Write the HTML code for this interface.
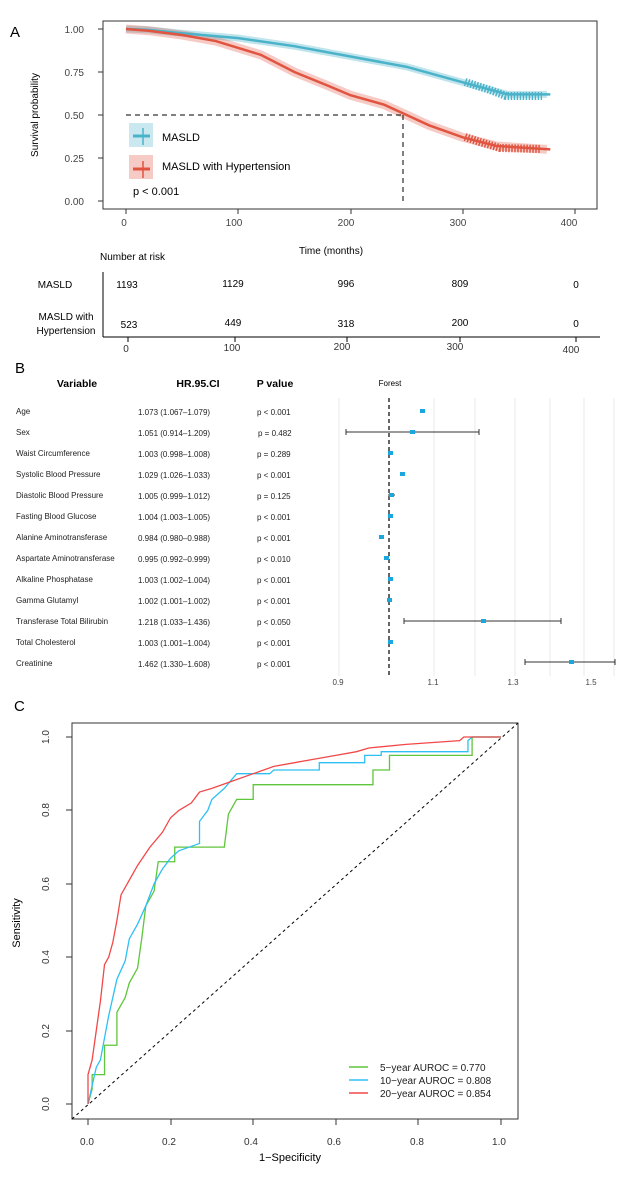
<!DOCTYPE html>
<html><head><meta charset="utf-8"><style>
body{margin:0;background:#fff}
svg{display:block;font-family:"Liberation Sans",Arial,sans-serif}
</style></head><body>
<svg width="624" height="1178" viewBox="0 0 624 1178" xmlns="http://www.w3.org/2000/svg">
<!-- Panel A -->
<text x="10" y="37" font-size="15">A</text>
<rect x="103" y="21" width="494" height="188" fill="none" stroke="#333" stroke-width="1"/>
<g font-size="10" fill="#444" text-anchor="end">
<text x="84" y="33">1.00</text><text x="84" y="76">0.75</text><text x="84" y="119">0.50</text><text x="84" y="162">0.25</text><text x="84" y="205">0.00</text>
</g>
<g stroke="#333"><line x1="98" y1="29" x2="103" y2="29"/><line x1="98" y1="72" x2="103" y2="72"/><line x1="98" y1="115" x2="103" y2="115"/><line x1="98" y1="158" x2="103" y2="158"/><line x1="98" y1="201" x2="103" y2="201"/>
<line x1="126" y1="209" x2="126" y2="214"/><line x1="238" y1="209" x2="238" y2="214"/><line x1="351" y1="209" x2="351" y2="214"/><line x1="463" y1="209" x2="463" y2="214"/><line x1="575" y1="209" x2="575" y2="214"/></g>
<g font-size="10" fill="#444" text-anchor="middle">
<text x="124" y="226">0</text><text x="234" y="226">100</text><text x="346" y="226">200</text><text x="458" y="226">300</text><text x="569" y="226">400</text></g>
<text x="331" y="254" font-size="10" text-anchor="middle">Time (months)</text>
<text transform="translate(38,115) rotate(-90)" font-size="10" text-anchor="middle">Survival probability</text>
<g transform="translate(126,201) scale(1.1225,-172)" fill="none">
<polyline stroke="#4bb3c9" stroke-opacity="0.35" stroke-width="7" vector-effect="non-scaling-stroke" points="0,1 20,0.995 50,0.975 100,0.947 150,0.9 200,0.84 250,0.78 300,0.69 340,0.62 375,0.62"/>
<polyline stroke="#e05440" stroke-opacity="0.3" stroke-width="9" vector-effect="non-scaling-stroke" points="0,1 20,0.99 50,0.965 80,0.93 100,0.89 120,0.85 150,0.75 180,0.67 200,0.615 230,0.56 250,0.5 270,0.44 300,0.37 330,0.32 375,0.3"/>
<polyline stroke="#4bb3c9" stroke-width="2.5" vector-effect="non-scaling-stroke" points="0,1 20,0.995 50,0.975 100,0.947 150,0.9 200,0.84 250,0.78 300,0.69 340,0.62 378,0.62"/>
<polyline stroke="#e05440" stroke-width="2.5" vector-effect="non-scaling-stroke" points="0,1 20,0.99 50,0.965 80,0.93 100,0.89 120,0.85 150,0.75 180,0.67 200,0.615 230,0.56 250,0.5 270,0.44 300,0.37 330,0.32 378,0.3"/>
</g>
<!-- censor ticks -->
<g fill="none" stroke-width="8" stroke-dasharray="1.5 1.5">
<polyline stroke="#4bb3c9" points="465,82 490,90 506,96 542,96"/>
<polyline stroke="#e05440" points="465,137 480,142 500,148 541,149"/>
</g>
<line x1="126" y1="115" x2="403" y2="115" stroke="#000" stroke-dasharray="5 4"/>
<line x1="403" y1="115" x2="403" y2="201" stroke="#000" stroke-dasharray="5 4"/>
<rect x="129" y="123" width="24" height="24" fill="#4bb3c9" fill-opacity="0.3"/>
<line x1="133" y1="136" x2="150" y2="136" stroke="#4bb3c9" stroke-width="3"/><line x1="143" y1="128" x2="143" y2="145" stroke="#4bb3c9" stroke-width="1.5"/>
<text x="162" y="141" font-size="11">MASLD</text>
<rect x="129" y="155" width="24" height="24" fill="#e05440" fill-opacity="0.3"/>
<line x1="133" y1="169" x2="150" y2="169" stroke="#e05440" stroke-width="3"/><line x1="143" y1="161" x2="143" y2="178" stroke="#e05440" stroke-width="1.5"/>
<text x="162" y="170" font-size="11">MASLD with Hypertension</text>
<text x="133" y="195" font-size="11">p &lt; 0.001</text>
<!-- risk table -->
<text x="100" y="260" font-size="10">Number at risk</text>
<line x1="103" y1="272" x2="103" y2="337" stroke="#000"/>
<line x1="103" y1="337" x2="600" y2="337" stroke="#000"/>
<g font-size="10" text-anchor="middle">
<text x="55" y="288">MASLD</text>
<text x="127" y="288">1193</text><text x="233" y="287">1129</text><text x="346" y="287">996</text><text x="460" y="287">809</text><text x="576" y="288">0</text>
<text x="66" y="320">MASLD  with</text><text x="66" y="334">Hypertension</text>
<text x="129" y="328">523</text><text x="233" y="326">449</text><text x="346" y="327">318</text><text x="460" y="326">200</text><text x="576" y="327">0</text>
</g>
<g stroke="#000"><line x1="128" y1="337" x2="128" y2="342"/><line x1="235" y1="337" x2="235" y2="342"/><line x1="347" y1="337" x2="347" y2="342"/><line x1="460" y1="337" x2="460" y2="342"/><line x1="576" y1="337" x2="576" y2="342"/></g>
<g font-size="10" text-anchor="middle" fill="#333"><text x="126" y="352">0</text><text x="232" y="351">100</text><text x="342" y="350">200</text><text x="455" y="350">300</text><text x="571" y="353">400</text></g>

<!-- Panel B -->
<text x="15" y="373" font-size="15">B</text>
<g font-size="10.5" font-weight="bold" text-anchor="middle">
<text x="77" y="387">Variable</text><text x="198" y="387">HR.95.CI</text><text x="275" y="387">P value</text></g>
<text x="390" y="386" font-size="8" text-anchor="middle">Forest</text>
<g stroke="#e8e8e8"><line x1="339" y1="398" x2="339" y2="676"/><line x1="434" y1="398" x2="434" y2="676"/><line x1="475" y1="398" x2="475" y2="676"/><line x1="515" y1="398" x2="515" y2="676"/><line x1="550" y1="398" x2="550" y2="676"/><line x1="584" y1="398" x2="584" y2="676"/><line x1="614" y1="398" x2="614" y2="676"/></g>
<line x1="389" y1="398" x2="389" y2="676" stroke="#000" stroke-width="1.2" stroke-dasharray="4 3"/>
<g font-size="8" fill="#222">
<text x="16" y="414">Age</text><text x="16" y="435">Sex</text><text x="16" y="456">Waist Circumference</text><text x="16" y="477">Systolic Blood Pressure</text><text x="16" y="498">Diastolic Blood Pressure</text><text x="16" y="519">Fasting Blood Glucose</text><text x="16" y="540">Alanine Aminotransferase</text><text x="16" y="561">Aspartate Aminotransferase</text><text x="16" y="582">Alkaline Phosphatase</text><text x="16" y="603">Gamma Glutamyl</text><text x="16" y="624">Transferase Total Bilirubin</text><text x="16" y="645">Total Cholesterol</text><text x="16" y="666">Creatinine</text>
<text x="138" y="415">1.073 (1.067–1.079)</text><text x="138" y="436">1.051 (0.914–1.209)</text><text x="138" y="457">1.003 (0.998–1.008)</text><text x="138" y="478">1.029 (1.026–1.033)</text><text x="138" y="499">1.005 (0.999–1.012)</text><text x="138" y="520">1.004 (1.003–1.005)</text><text x="138" y="541">0.984 (0.980–0.988)</text><text x="138" y="562">0.995 (0.992–0.999)</text><text x="138" y="583">1.003 (1.002–1.004)</text><text x="138" y="604">1.002 (1.001–1.002)</text><text x="138" y="625">1.218 (1.033–1.436)</text><text x="138" y="646">1.003 (1.001–1.004)</text><text x="138" y="667">1.462 (1.330–1.608)</text>
<text x="257" y="415">p &lt; 0.001</text><text x="258" y="436">p = 0.482</text><text x="257" y="457">p = 0.289</text><text x="257" y="478">p &lt; 0.001</text><text x="257" y="499">p = 0.125</text><text x="257" y="520">p &lt; 0.001</text><text x="257" y="541">p &lt; 0.001</text><text x="257" y="562">p &lt; 0.010</text><text x="257" y="583">p &lt; 0.001</text><text x="257" y="604">p &lt; 0.001</text><text x="257" y="625">p &lt; 0.050</text><text x="257" y="646">p &lt; 0.001</text><text x="257" y="667">p &lt; 0.001</text>
</g>
<g stroke="#333" stroke-width="1">
<line x1="420" y1="411" x2="425" y2="411"/><line x1="346" y1="432" x2="479" y2="432"/><line x1="346" y1="429" x2="346" y2="435"/><line x1="479" y1="429" x2="479" y2="435"/>
<line x1="388" y1="453" x2="393" y2="453"/><line x1="401" y1="474" x2="405" y2="474"/><line x1="388" y1="495" x2="395" y2="495"/><line x1="379" y1="537" x2="383" y2="537"/>
<line x1="404" y1="621" x2="561" y2="621"/><line x1="404" y1="618" x2="404" y2="624"/><line x1="561" y1="618" x2="561" y2="624"/>
<line x1="525" y1="662" x2="615" y2="662"/><line x1="525" y1="659" x2="525" y2="665"/><line x1="615" y1="659" x2="615" y2="665"/>
</g>
<g fill="#1aa7e0">
<rect x="420" y="409" width="5" height="4"/><rect x="410" y="430" width="5" height="4"/><rect x="388" y="451" width="5" height="4"/><rect x="400" y="472" width="5" height="4"/><rect x="389" y="493" width="5" height="4"/><rect x="388" y="514" width="5" height="4"/><rect x="379" y="535" width="5" height="4"/><rect x="384" y="556" width="5" height="4"/><rect x="388" y="577" width="5" height="4"/><rect x="387" y="598" width="5" height="4"/><rect x="481" y="619" width="5" height="4"/><rect x="388" y="640" width="5" height="4"/><rect x="569" y="660" width="5" height="4"/>
</g>
<g font-size="8" fill="#444" text-anchor="middle"><text x="338" y="685">0.9</text><text x="433" y="685">1.1</text><text x="513" y="685">1.3</text><text x="591" y="685">1.5</text></g>

<!-- Panel C -->
<text x="14" y="711" font-size="15">C</text>
<rect x="72" y="723" width="446" height="396" fill="none" stroke="#333" stroke-width="1"/>
<g stroke="#333"><line x1="66" y1="737" x2="72" y2="737"/><line x1="66" y1="810" x2="72" y2="810"/><line x1="66" y1="884" x2="72" y2="884"/><line x1="66" y1="957" x2="72" y2="957"/><line x1="66" y1="1031" x2="72" y2="1031"/><line x1="66" y1="1104" x2="72" y2="1104"/>
<line x1="88" y1="1119" x2="88" y2="1125"/><line x1="171" y1="1119" x2="171" y2="1125"/><line x1="253" y1="1119" x2="253" y2="1125"/><line x1="336" y1="1119" x2="336" y2="1125"/><line x1="418" y1="1119" x2="418" y2="1125"/><line x1="501" y1="1119" x2="501" y2="1125"/></g>
<g font-size="10" fill="#333" text-anchor="middle">
<text transform="translate(49,737) rotate(-90)">1.0</text><text transform="translate(49,810) rotate(-90)">0.8</text><text transform="translate(49,884) rotate(-90)">0.6</text><text transform="translate(49,957) rotate(-90)">0.4</text><text transform="translate(49,1031) rotate(-90)">0.2</text><text transform="translate(49,1104) rotate(-90)">0.0</text>
<text x="87" y="1145">0.0</text><text x="169" y="1145">0.2</text><text x="251" y="1145">0.4</text><text x="334" y="1145">0.6</text><text x="417" y="1145">0.8</text><text x="499" y="1145">1.0</text></g>
<text x="290" y="1161" font-size="11" text-anchor="middle">1−Specificity</text>
<text transform="translate(20,923) rotate(-90)" font-size="11" text-anchor="middle">Sensitivity</text>
<line x1="72" y1="1119" x2="518" y2="723" stroke="#000" stroke-dasharray="3 3"/>
<g transform="translate(88,1104) scale(413,-367)" fill="none" stroke-width="1.3">
<polyline vector-effect="non-scaling-stroke" stroke="#5ec63a" points="0,0 0.01,0.04 0.01,0.08 0.04,0.08 0.04,0.16 0.07,0.16 0.07,0.25 0.09,0.29 0.1,0.33 0.12,0.37 0.13,0.45 0.14,0.54 0.16,0.58 0.17,0.66 0.21,0.66 0.21,0.7 0.33,0.7 0.34,0.79 0.36,0.83 0.4,0.83 0.4,0.87 0.69,0.87 0.69,0.91 0.73,0.91 0.73,0.95 0.93,0.95 0.93,1 1,1"/>
<polyline vector-effect="non-scaling-stroke" stroke="#2ec0f5" points="0,0 0.01,0.05 0.02,0.1 0.03,0.12 0.04,0.18 0.05,0.24 0.06,0.29 0.07,0.34 0.09,0.39 0.1,0.45 0.12,0.49 0.14,0.54 0.16,0.6 0.18,0.64 0.2,0.67 0.22,0.69 0.27,0.71 0.27,0.77 0.29,0.8 0.3,0.83 0.33,0.86 0.36,0.9 0.44,0.9 0.45,0.91 0.56,0.91 0.56,0.93 0.67,0.93 0.67,0.95 0.71,0.95 0.71,0.96 0.92,0.96 0.92,0.99 0.93,1 1,1"/>
<polyline vector-effect="non-scaling-stroke" stroke="#f24848" points="0,0 0,0.08 0.01,0.12 0.02,0.2 0.03,0.28 0.04,0.38 0.05,0.4 0.06,0.44 0.07,0.5 0.08,0.57 0.1,0.61 0.12,0.65 0.15,0.7 0.18,0.74 0.2,0.78 0.22,0.8 0.25,0.82 0.27,0.85 0.3,0.86 0.35,0.88 0.4,0.9 0.45,0.92 0.5,0.93 0.55,0.94 0.6,0.95 0.65,0.96 0.68,0.97 0.77,0.98 0.9,0.99 0.91,1 1,1"/>
</g>
<g stroke-width="1.5"><line x1="349" y1="1067" x2="368" y2="1067" stroke="#5ec63a"/><line x1="349" y1="1080" x2="368" y2="1080" stroke="#2ec0f5"/><line x1="349" y1="1093" x2="368" y2="1093" stroke="#f24848"/></g>
<g font-size="10" fill="#222"><text x="380" y="1071">5−year   AUROC = 0.770</text><text x="380" y="1084">10−year AUROC = 0.808</text><text x="380" y="1097">20−year AUROC = 0.854</text></g>
</svg>
</body></html>
